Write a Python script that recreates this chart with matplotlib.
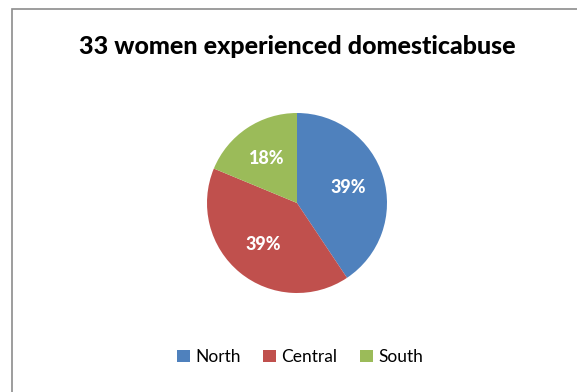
import matplotlib.pyplot as plt
from matplotlib.patches import Rectangle

regions = ["North", "Central", "South"]
shares = [39, 39, 18]  # per cent of the 33 women
colors = ["#4F81BD", "#C0504D", "#9BBB59"]

W, H = 577, 392
fig = plt.figure(figsize=(W / 100, H / 100), dpi=100)
plt.rcParams['font.family'] = ['Lato', 'DejaVu Sans']

# chart frame, running off the right and bottom edges
fig.patches.append(Rectangle((12 / W, -0.1), 1, 1.1 - 9 / H, transform=fig.transFigure,
                             fill=False, edgecolor="#8c8c8c", linewidth=1.2))

cx, cy, r = 297, 203, 90
ax = fig.add_axes([(cx - r) / W, (H - cy - r) / H, 2 * r / W, 2 * r / H])
wedges, texts, autotexts = ax.pie(
    shares, colors=colors, startangle=90, counterclock=False,
    labels=None, autopct=lambda p: "", pctdistance=0.6,
    wedgeprops=dict(linewidth=0))
for w, a, v in zip(wedges, autotexts, shares):
    a.set_text(f"{v}%")
    a.set_color("white")
    a.set_fontsize(13)
    a.set_fontweight("black")
ax.set_xlim(-1, 1)
ax.set_ylim(-1, 1)
ax.set_aspect("equal")

fig.text(297 / W, 1 - 47 / H, "33 women experienced domesticabuse",
         ha="center", va="center", fontsize=18, fontweight="black")

fig.legend(wedges, regions, loc="center", bbox_to_anchor=(300 / W, 1 - 357 / H),
           ncol=3, frameon=False, fontsize=12.5, handlelength=0.75, handleheight=0.75,
           handletextpad=0.3, columnspacing=1.3)

fig.savefig("out.png", dpi=100)
